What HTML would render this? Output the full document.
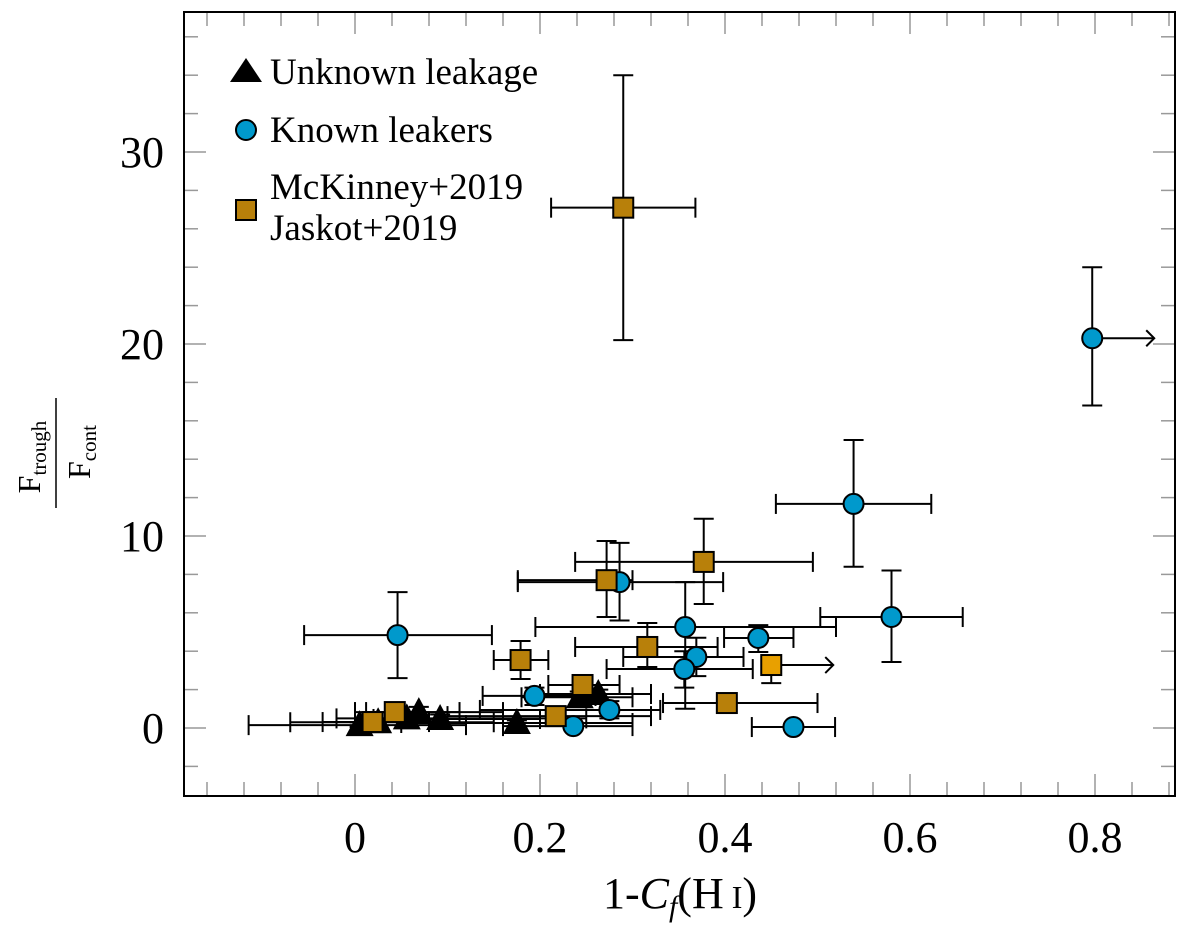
<!DOCTYPE html>
<html><head><meta charset="utf-8">
<style>
body{margin:0;background:#fff;}
svg{display:block;}
text,tspan{font-family:"Liberation Serif","Times New Roman",Times,serif;}
</style></head>
<body>
<svg id="chart" width="1200" height="938" viewBox="0 0 1200 938">
<g id="ticks"></g>
<g id="errs"></g>
<g id="marks"></g>
<rect x="184" y="12" width="991" height="784" fill="none" stroke="#000" stroke-width="2"/>
<g id="xlabels"></g>
<g id="ylabels"></g>
<text x="680" y="908" font-size="44" text-anchor="middle">1-<tspan font-style="italic">C</tspan><tspan font-style="italic" font-size="30" dy="8">f</tspan><tspan dy="-8">(H</tspan><tspan font-size="32"> I</tspan>)</text>
<g>
<text x="40" y="457" font-size="32" text-anchor="middle" transform="rotate(-90 40 457)">F<tspan font-size="21" dy="6">trough</tspan></text>
<line x1="56" y1="398" x2="56" y2="508" stroke="#000" stroke-width="1.5"/>
<text x="90" y="452" font-size="32" text-anchor="middle" transform="rotate(-90 90 452)">F<tspan font-size="21" dy="6">cont</tspan></text>
</g>
<g>
<g>
<polygon points="230,82 246,58 262,82" fill="#000"/>
<text x="270" y="84" font-size="37">Unknown leakage</text></g>
<g>
<circle cx="246" cy="130" r="10" fill="#0099cc" stroke="#000" stroke-width="2"/>
<text x="270" y="142" font-size="37">Known leakers</text></g>
<g>
<rect x="236" y="200" width="20" height="20" fill="#b8800a" stroke="#000" stroke-width="2"/>
<text x="270" y="199" font-size="37">McKinney+2019</text>
<text x="270" y="240" font-size="37">Jaskot+2019</text></g>
</g>
</svg>
<script>
// Known leakers
const cX=[0.046,0.286,0.357,0.436,0.369,0.356,0.797,0.539,0.580,0.194,0.275,0.236,0.474];
const cY=[4.84,7.6,5.26,4.69,3.7,3.07,20.3,11.67,5.78,1.67,0.94,0.1,0.05];
const cXlo=[-0.055,0.176,0.195,0.399,0.29,0.272,0.797,0.455,0.503,0.138,0.135,0.16,0.429];
const cXhi=[0.148,0.398,0.52,0.474,0.42,0.43,0.797,0.623,0.657,0.26,0.33,0.3,0.519];
const cYlo=[2.6,5.6,1.0,3.96,2.7,2.1,16.8,8.4,3.44,1.2,0.5,0.0,0.05];
const cYhi=[7.08,9.64,7.6,5.36,4.7,4.0,24.0,15.0,8.2,2.1,1.4,0.3,0.05];
const cArrow=[0,0,0,0,0,0,1,0,0,0,0,0,0];
// McKinney / Jaskot
const sX=[0.290,0.377,0.272,0.316,0.179,0.246,0.217,0.402,0.450,0.019,0.043];
const sY=[27.1,8.65,7.7,4.22,3.54,2.24,0.62,1.3,3.28,0.31,0.83];
const sXlo=[0.212,0.238,0.176,0.238,0.150,0.209,0.10,0.333,0.272,-0.035,0.012];
const sXhi=[0.368,0.495,0.30,0.392,0.209,0.286,0.32,0.50,0.45,0.08,0.113];
const sYlo=[20.2,6.46,5.78,3.18,2.55,1.8,0.3,1.3,2.34,0.0,0.4];
const sYhi=[34.0,10.9,9.74,5.47,4.53,2.7,1.0,1.3,3.7,0.7,1.3];
const sArrow=[0,0,0,0,0,0,0,0,1,0,0];
// Unknown leakage
const tX=[0.005,0.025,0.056,0.069,0.092,0.175,0.243,0.263];
const tY=[0.15,0.3,0.5,0.83,0.47,0.26,1.6,1.77];
const tXlo=[-0.115,-0.07,-0.02,0.0,0.02,0.05,0.18,0.2];
const tXhi=[0.12,0.15,0.25,0.16,0.2,0.3,0.3,0.32];
const tYlo=[0.05,0.1,0.3,0.6,0.3,0.1,1.3,1.5];
const tYhi=[0.3,0.5,0.7,1.1,0.7,0.4,1.9,2.0];
const xTicks=[0,0.2,0.4,0.6,0.8];
const xTickLabels=["0","0.2","0.4","0.6","0.8"];
const yTicks=[0,10,20,30];
const yTickLabels=["0","10","20","30"];

const X=v=>355+v*925, Y=v=>728-v*19.2;
const NS="http://www.w3.org/2000/svg";
function mk(tag,attrs,parent){const e=document.createElementNS(NS,tag);for(const k in attrs)e.setAttribute(k,attrs[k]);parent.appendChild(e);return e;}
const gt=document.getElementById('ticks'),ge=document.getElementById('errs'),gm=document.getElementById('marks');
const gxl=document.getElementById('xlabels'),gyl=document.getElementById('ylabels');
for(let i=-4;i<=22;i++){const v=i*0.04;const px=X(v);if(px<186||px>1173)continue;const major=i%5===0;
 const l=mk('line',{x1:px,x2:px,y1:796,y2:796-(major?22:14),stroke:'#999','stroke-width':1.5},gt);
 
 const l2=mk('line',{x1:px,x2:px,y1:12,y2:12+(major?22:14),stroke:'#999','stroke-width':1.5},gt);
 }
for(let i=-1;i<=18;i++){const v=i*2;const py=Y(v);if(py<14||py>794)continue;const major=i%5===0;
 const l=mk('line',{x1:184,x2:184+(major?22:14),y1:py,y2:py,stroke:'#999','stroke-width':1.5},gt);
 
 const l2=mk('line',{x1:1175,x2:1175-(major?22:14),y1:py,y2:py,stroke:'#999','stroke-width':1.5},gt);
 }
xTicks.forEach((v,i)=>{const t=mk('text',{x:X(v),y:852,'font-size':44,'text-anchor':'middle'},gxl);t.textContent=xTickLabels[i];
 });
yTicks.forEach((v,i)=>{const t=mk('text',{x:164,y:Y(v)+15,'font-size':44,'text-anchor':'end'},gyl);t.textContent=yTickLabels[i];
 });
function err(x,y,xlo,xhi,ylo,yhi,arrow){
 const g=mk('g',{stroke:'#000','stroke-width':2,fill:'none'},ge);
 
 if(arrow){const x0=X(x),x1=X(x)+62;mk('line',{x1:x0,x2:x1,y1:Y(y),y2:Y(y)},g);
  mk('path',{d:`M${x1-8},${Y(y)-8} L${x1},${Y(y)} L${x1-8},${Y(y)+8}`},g);}
 else if(xhi>xlo){mk('line',{x1:X(xlo),x2:X(xhi),y1:Y(y),y2:Y(y)},g);
  mk('line',{x1:X(xlo),x2:X(xlo),y1:Y(y)-10,y2:Y(y)+10},g);mk('line',{x1:X(xhi),x2:X(xhi),y1:Y(y)-10,y2:Y(y)+10},g);}
 if(yhi>ylo){mk('line',{x1:X(x),x2:X(x),y1:Y(ylo),y2:Y(yhi)},g);
  mk('line',{x1:X(x)-10,x2:X(x)+10,y1:Y(ylo),y2:Y(ylo)},g);mk('line',{x1:X(x)-10,x2:X(x)+10,y1:Y(yhi),y2:Y(yhi)},g);}
}
tX.forEach((v,i)=>err(v,tY[i],tXlo[i],tXhi[i],tYlo[i],tYhi[i],0));
cX.forEach((v,i)=>err(v,cY[i],cXlo[i],cXhi[i],cYlo[i],cYhi[i],cArrow[i]));
sX.forEach((v,i)=>err(v,sY[i],sXlo[i],sXhi[i],sYlo[i],sYhi[i],sArrow[i]));
tX.forEach((v,i)=>{const x=X(v),y=Y(tY[i]);const p=mk('polygon',{points:`${x-14},${y+11} ${x},${y-15} ${x+14},${y+11}`,fill:'#000'},gm);
 });
cX.forEach((v,i)=>{const c=mk('circle',{cx:X(v),cy:Y(cY[i]),r:10,fill:'#0099cc',stroke:'#000','stroke-width':2},gm);
 });
sX.forEach((v,i)=>{const r=mk('rect',{x:X(v)-10,y:Y(sY[i])-10,width:20,height:20,fill:sArrow[i]?'#e8a000':'#b8800a',stroke:'#000','stroke-width':2},gm);
 });
</script>
</body></html>
